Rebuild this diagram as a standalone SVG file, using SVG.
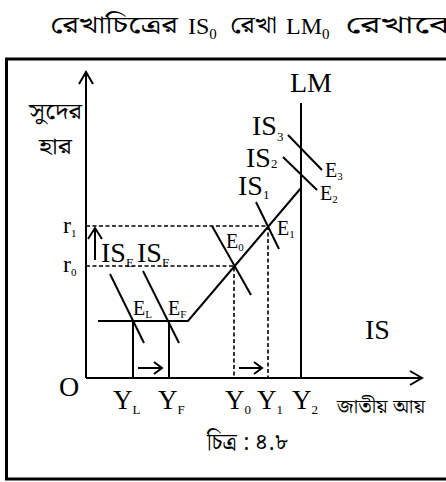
<svg xmlns="http://www.w3.org/2000/svg" width="446" height="482" viewBox="0 0 446 482">
<style>
.ln{stroke:#000;stroke-width:2;fill:none;stroke-linecap:butt}
.ds{stroke:#000;stroke-width:1.6;fill:none;stroke-dasharray:4 2.5}
.fr{stroke:#000;stroke-width:3;fill:none}
.t{font-family:"Liberation Serif","Times New Roman",serif;fill:#000}
.big{font-size:28px}
.y{font-size:27px}
.e{font-size:20px}
.s{font-size:13px}
.xs{font-size:11px}
.bn{font-family:"Noto Serif Bengali","Noto Sans Bengali","Lohit Bengali","Vrinda","FreeSerif",serif;fill:#000}
</style>
<rect width="446" height="482" fill="#fff"/>
<g id="title">
<text class="bn" x="50" y="33" font-size="24" textLength="128" lengthAdjust="spacingAndGlyphs">রেখাচিত্রের</text>
<text class="t" x="188" y="34" font-size="24">IS<tspan font-size="15" dy="5">0</tspan></text>
<text class="bn" x="230" y="33" font-size="24" textLength="47" lengthAdjust="spacingAndGlyphs">রেখা</text>
<text class="t" x="286" y="34" font-size="24">LM<tspan font-size="15" dy="5">0</tspan></text>
<text class="bn" x="345" y="33" font-size="24" textLength="112" lengthAdjust="spacingAndGlyphs">রেখাকে</text>
</g>
<path id="frame" class="fr" d="M450 59 H6.5 V479 H450"/>
<g id="axes">
<path class="ln" d="M86 378 V72 M79 84 L86 72 L93 84"/>
<path class="ln" d="M86 378 H422 M410 371 L422 378 L410 385"/>
</g>
<g id="connectors">
<path class="ln" d="M98 321 H188 L301 188"/>
<path class="ln" d="M301 103 V378"/>
<path class="ln" d="M288 135 L322 170"/>
<path class="ln" d="M283 157 L317 190"/>
<path class="ln" d="M256 202 L279 249"/>
<path class="ln" d="M212 226 L251 295"/>
<path class="ln" d="M110 274 L144 343"/>
<path class="ln" d="M143 271 L179 343"/>
<path class="ln" d="M133 321 V378 M169 321 V378"/>
<path class="ds" d="M86 226 H268 V378 M86 266 H234 V378"/>
<path class="ln" d="M95 260 V228 M88 239 L95 228 L102 239"/>
<path class="ln" d="M138 368 H161 M154 362 L162 368 L154 374"/>
<path class="ln" d="M239 368 H261 M254 362 L262 368 L254 374"/>
</g>
<g id="labels">
<text class="bn" x="29" y="119" font-size="22" textLength="53" lengthAdjust="spacingAndGlyphs">সুদের</text>
<text class="bn" x="39" y="154" font-size="22" textLength="33" lengthAdjust="spacingAndGlyphs">হার</text>
<text class="t big" x="290" y="92">LM</text>
<text class="t big" x="252" y="135">IS<tspan class="s" dy="6">3</tspan></text>
<text class="t big" x="246" y="167">IS<tspan class="s" dy="1">2</tspan></text>
<text class="t big" x="238" y="195">IS<tspan class="s" dy="4">1</tspan></text>
<text class="t e" x="325" y="177">E<tspan class="xs" dy="3">3</tspan></text>
<text class="t e" x="320" y="200">E<tspan class="xs" dy="3">2</tspan></text>
<text class="t e" x="277" y="235">E<tspan class="xs" dy="3">1</tspan></text>
<text class="t e" x="226" y="248">E<tspan class="xs" dy="3">0</tspan></text>
<text class="t e" x="133" y="315">E<tspan class="xs" dy="3">L</tspan></text>
<text class="t e" x="168" y="315">E<tspan class="xs" dy="3">F</tspan></text>
<text class="t" x="63" y="233" font-size="24">r<tspan class="xs" dy="4">1</tspan></text>
<text class="t" x="63" y="272" font-size="24">r<tspan class="xs" dy="4">0</tspan></text>
<text class="t big" x="101" y="262">IS<tspan class="s" dy="5">E</tspan></text>
<text class="t big" x="137" y="262">IS<tspan class="s" dy="5">F</tspan></text>
<text class="t big" x="365" y="339">IS</text>
<text class="t big" x="59" y="396">O</text>
<text class="t y" x="113" y="409">Y<tspan class="s" dy="5">L</tspan></text>
<text class="t y" x="158" y="409">Y<tspan class="s" dy="5">F</tspan></text>
<text class="t y" x="225" y="409">Y<tspan class="s" dy="5">0</tspan></text>
<text class="t y" x="257" y="409">Y<tspan class="s" dy="5">1</tspan></text>
<text class="t y" x="292" y="409">Y<tspan class="s" dy="5">2</tspan></text>
<text class="bn" x="337" y="413" font-size="19" textLength="88" lengthAdjust="spacingAndGlyphs">জাতীয় আয়</text>
<text class="bn" x="207" y="450" font-size="24" textLength="81" lengthAdjust="spacingAndGlyphs">চিত্র : ৪.৮</text>
</g>
</svg>
